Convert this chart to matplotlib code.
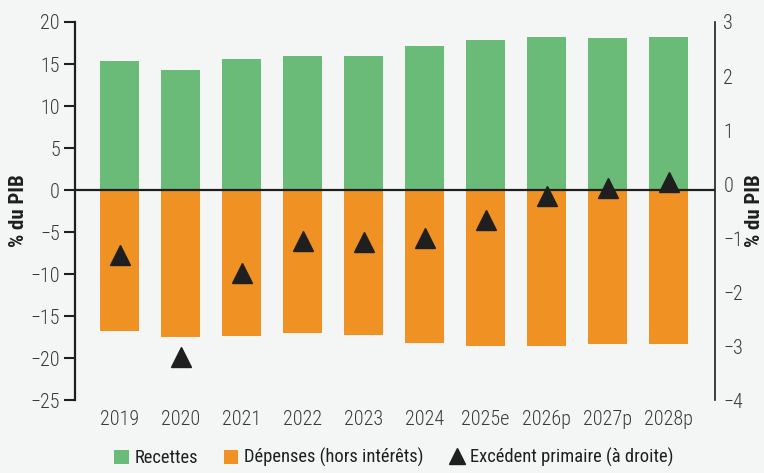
import numpy as np
import matplotlib.pyplot as plt
from matplotlib.lines import Line2D
from matplotlib.patches import Patch

years = ['2019', '2020', '2021', '2022', '2023', '2024', '2025e', '2026p', '2027p', '2028p']
recettes = [15.3, 14.25, 15.55, 15.9, 15.9, 17.1, 17.8, 18.2, 18.05, 18.2]
depenses = [-16.8, -17.5, -17.4, -17.05, -17.2, -18.25, -18.5, -18.5, -18.35, -18.35]
excedent = [-1.32, -3.2, -1.64, -1.06, -1.07, -1.0, -0.67, -0.22, -0.07, 0.04]

green = '#6aba78'
orange = '#ef9123'
dark = '#1f1f1f'
txt = '#3a3a3a'
bg = '#f3f6f4'

plt.rcParams['font.family'] = ['Roboto Condensed', 'Roboto', 'DejaVu Sans']

fig = plt.figure(figsize=(7.64, 4.73), dpi=100, facecolor=bg)
ax = fig.add_axes([0.0982, 0.154, 0.8378, 0.7995])
ax.set_facecolor(bg)

x = np.arange(len(years))
ax.bar(x, recettes, width=0.64, color=green, zorder=2)
ax.bar(x, depenses, width=0.64, color=orange, zorder=2)
ax.axhline(0, color=dark, lw=1.6, zorder=3)

ax.set_xlim(-0.73, 9.76)
ax.set_ylim(-25, 20)
ax.set_yticks(range(-25, 21, 5))
ax.set_xticks(x)
ax.set_xticklabels(years)
ax.tick_params(axis='x', length=0, pad=7, labelsize=14.5, labelcolor=txt)
ax.tick_params(axis='y', length=8, width=1.5, color=dark, pad=3, labelsize=14.5, labelcolor=txt)
for lab in ax.get_xticklabels() + ax.get_yticklabels():
    lab.set_fontweight('light')
for s in ['top', 'bottom', 'right']:
    ax.spines[s].set_visible(False)
ax.spines['left'].set_linewidth(1.6)
ax.spines['left'].set_color(dark)
ax.set_ylabel('% du PIB', fontsize=15, fontweight='bold', color=dark)
ax.yaxis.set_label_coords(-0.074, 0.5)

# solde primaire sur l'axe de droite
ax2 = ax.twinx()
ax2.plot(x, excedent, linestyle='none', marker='^', markersize=14, color=dark, zorder=4)
ax2.set_ylim(-4, 3)
ax2.set_yticks(range(-4, 4))
ax2.tick_params(axis='y', length=0, pad=6, labelsize=14.5, labelcolor=txt)
for lab in ax2.get_yticklabels():
    lab.set_fontweight('light')
for s in ['top', 'bottom', 'left']:
    ax2.spines[s].set_visible(False)
ax2.spines['right'].set_linewidth(1.2)
ax2.spines['right'].set_color(dark)
ax2.set_ylabel('% du PIB', fontsize=15, fontweight='bold', color=dark, rotation=90)
ax2.yaxis.set_label_coords(1.046, 0.5)

handles = [
    Patch(facecolor=green, label='Recettes'),
    Patch(facecolor=orange, label='Dépenses (hors intérêts)'),
    Line2D([], [], linestyle='none', marker='^', markersize=11, color=dark,
           label='Excédent primaire (à droite)'),
]
fig.legend(handles=handles, loc='center', bbox_to_anchor=(0.515, 0.032), ncol=3,
           frameon=False, fontsize=13.3, handlelength=0.8, handleheight=0.8,
           handletextpad=0.3, columnspacing=1.4, labelcolor=dark)

fig.savefig('out.png', dpi=100, facecolor=bg)
